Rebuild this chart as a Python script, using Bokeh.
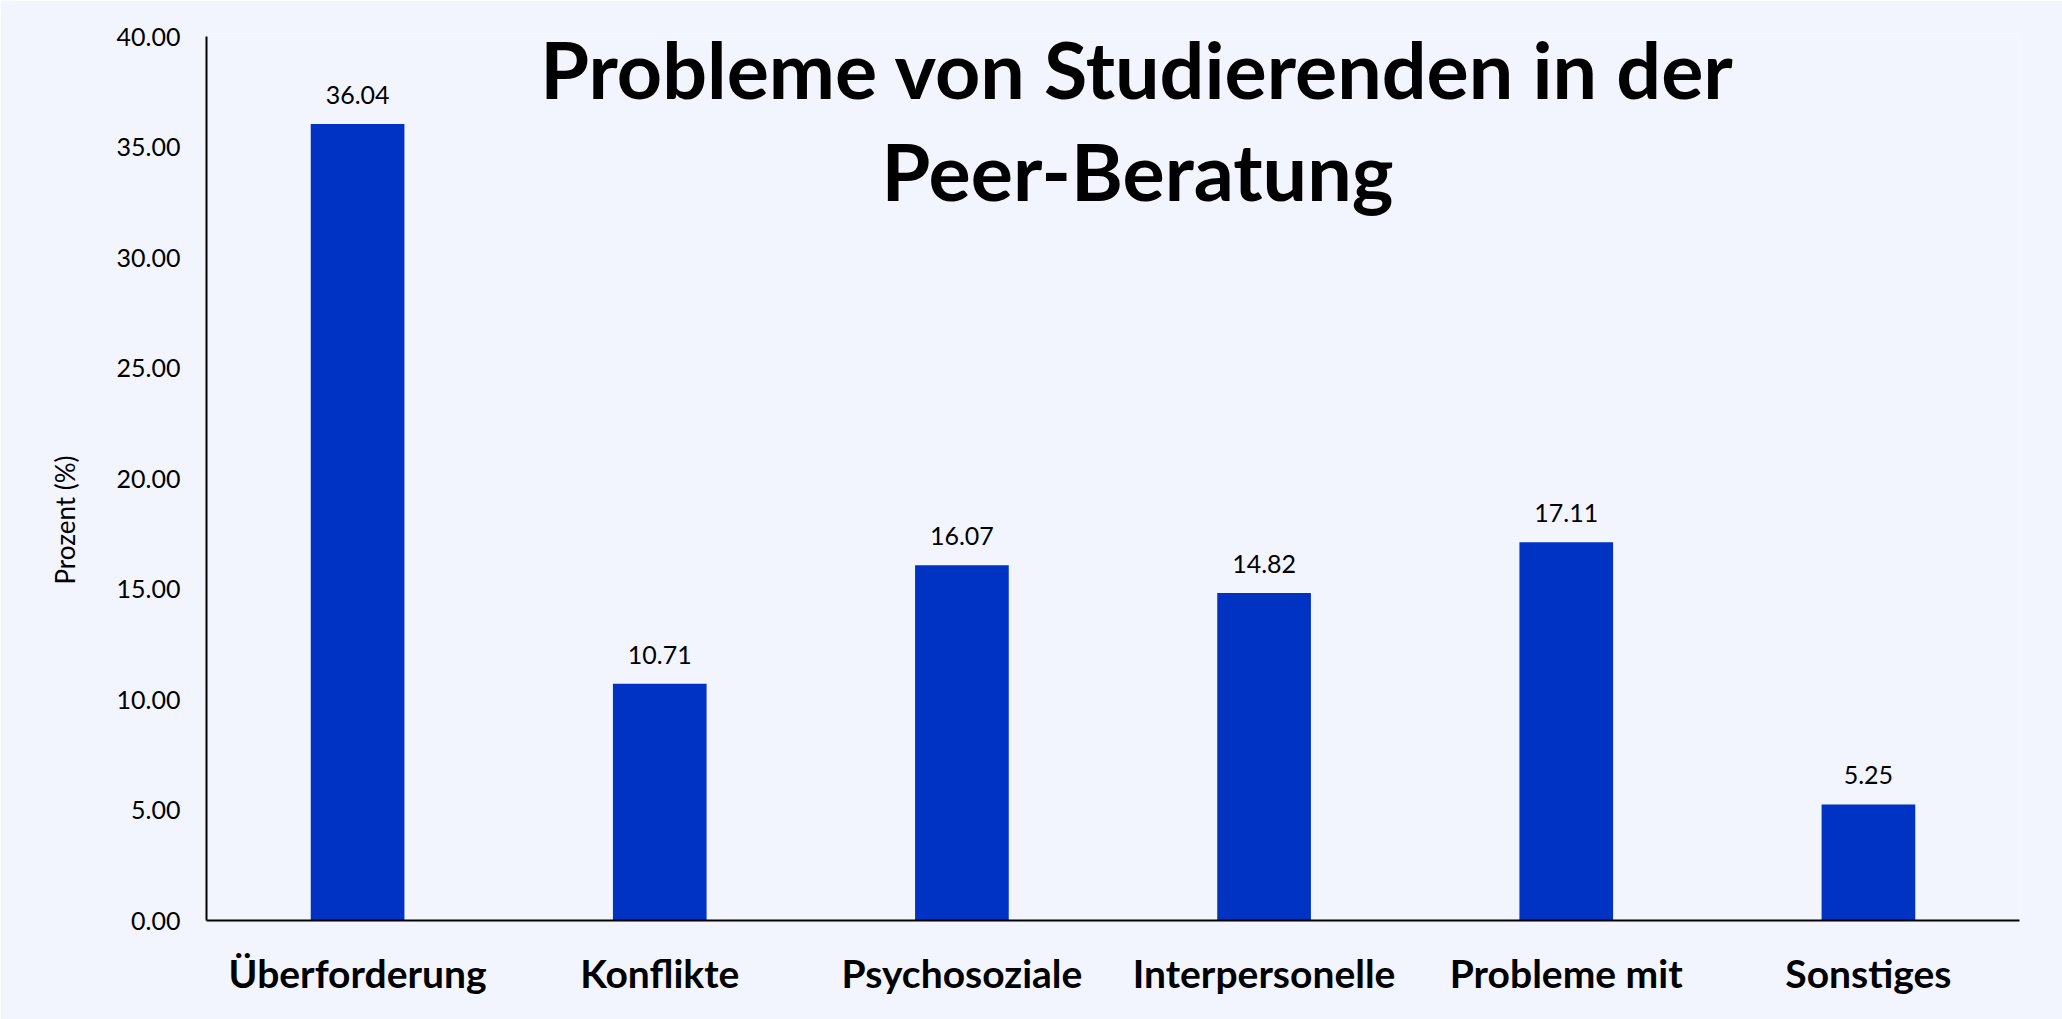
from bokeh.plotting import figure
from bokeh.models import (ColumnDataSource, LabelSet, Label, FixedTicker,
                          NumeralTickFormatter, Range1d, Title)
from bokeh.core.properties import value
from bokeh.embed import file_html
from bokeh.resources import INLINE

# ---- data ----
categories = ["Überforderung", "Konflikte", "Psychosoziale Probleme",
              "Interpersonelle Probleme", "Probleme mit dem Studium", "Sonstiges"]
label_line1 = ["Überforderung", "Konflikte", "Psychosoziale",
               "Interpersonelle", "Probleme mit", "Sonstiges"]
label_line2 = ["", "", "Probleme", "Probleme", "dem Studium", ""]
values = [36.04, 10.71, 16.07, 14.82, 17.11, 5.25]
y_ticks = [0, 5, 10, 15, 20, 25, 30, 35, 40]
title_lines = ["Probleme von Studierenden in der", "Peer-Beratung"]
y_title = "Prozent (%)"

BG = "#F2F5FD"
BAR = "#0032C3"
FONT = "Lato"

n = len(categories)
xpos = [i + 0.5 for i in range(n)]

src = ColumnDataSource(dict(x=xpos, cat=categories, val=values,
                            txt=[f"{v:.2f}" for v in values],
                            l2=label_line2))

p = figure(x_range=Range1d(0, n), y_range=Range1d(0, 40),
           frame_width=1813, frame_height=884,
           min_border_left=206, min_border_right=43,
           min_border_top=36, min_border_bottom=99,
           output_backend="svg", toolbar_location=None)

p.background_fill_color = BG
p.border_fill_color = BG
p.outline_line_color = None
p.xgrid.grid_line_color = None
p.ygrid.grid_line_color = None

p.vbar(x="x", top="val", width=0.31, source=src, fill_color=BAR, line_color=None)

# y axis
ya = p.yaxis[0]
ya.ticker = FixedTicker(ticks=y_ticks)
ya.formatter = NumeralTickFormatter(format="0.00")
ya.major_tick_line_color = None
ya.minor_tick_line_color = None
ya.major_tick_out = 0
ya.major_tick_in = 0
ya.axis_line_color = "black"
ya.axis_line_width = 2
ya.major_label_standoff = 26
ya.major_label_text_font = FONT
ya.major_label_text_font_size = "25px"
ya.major_label_text_color = "black"

# y axis title, placed in the left panel
p.add_layout(Title(text=y_title, align="left", offset=336, standoff=66,
                   text_font=FONT, text_font_size="26px",
                   text_font_style="normal", text_color="black"), "left")

# x axis
xa = p.xaxis[0]
xa.ticker = FixedTicker(ticks=xpos)
xa.major_tick_line_color = None
xa.minor_tick_line_color = None
xa.major_tick_out = 0
xa.major_tick_in = 0
xa.axis_line_color = "black"
xa.axis_line_width = 2
xa.major_label_standoff = 29
xa.major_label_text_font = FONT
xa.major_label_text_font_size = "39px"
xa.major_label_text_font_style = "bold"
xa.major_label_text_color = "black"
xa.major_label_overrides = {x: l for x, l in zip(xpos, label_line1)}

# value labels
p.add_layout(LabelSet(x="x", y="val", text="txt", source=src, y_offset=20,
                      text_align="center", text_baseline="alphabetic",
                      text_font=value(FONT), text_font_size=value("25px"),
                      text_color="black"))

# second line of category labels (runs off the bottom, as in the reference)
p.add_layout(LabelSet(x="x", y=-5.34, text="l2", source=src,
                      text_align="center", text_baseline="alphabetic",
                      text_font=value(FONT), text_font_size=value("39px"),
                      text_font_style="bold", text_color="black"))

# chart title
for t, yy in zip(title_lines, [38.56, 33.94]):
    p.add_layout(Label(x=3.081, y=yy, text=t, text_align="center",
                       text_baseline="alphabetic", text_font=FONT,
                       text_font_size="79px", text_font_style="bold",
                       text_color="black"))

open("out.html", "w").write(file_html(p, INLINE))
